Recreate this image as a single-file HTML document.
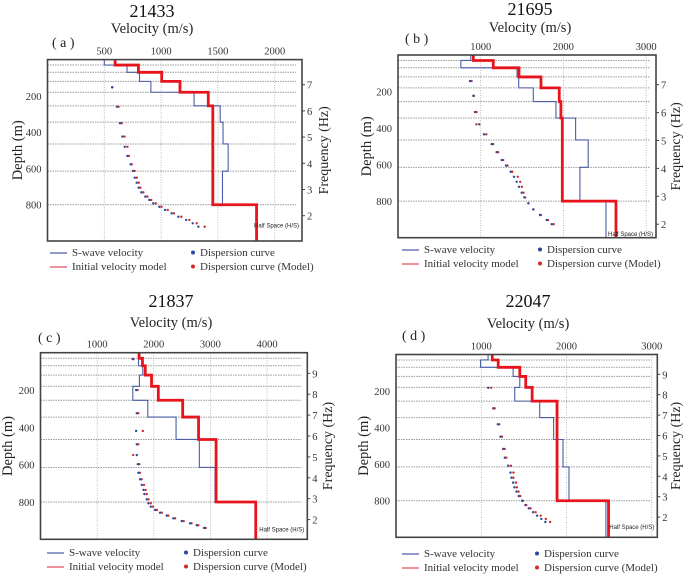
<!DOCTYPE html>
<html><head><meta charset="utf-8">
<style>
body{margin:0;background:#fff;}
svg{display:block;font-family:"Liberation Serif",serif;}
</style></head>
<body>
<svg id="fig" width="685" height="576" viewBox="0 0 685 576"></svg>
<script>
// Layer interfaces (depth, m)
const interfaces = [30, 70, 120, 180, 255, 345, 465, 615, 800];
const layerTops = [0, 30, 70, 120, 180, 255, 345, 465, 615, 800];

// Panel a (21433)
const sA = [500, 700, 810, 910, 1290, 1520, 1545, 1590, 1540, 1840];
const mA = [595, 800, 1005, 1166, 1415, 1455, 1455, 1455, 1455, 1840];
const dVA = [571, 612, 638, 659, 680, 703, 732, 753, 768, 785, 802, 826, 861, 896, 931, 984, 1034, 1093, 1152, 1220, 1278, 1328];
const dFA = [6.9, 6.16, 5.53, 5.02, 4.63, 4.28, 3.96, 3.71, 3.45, 3.26, 3.07, 2.89, 2.73, 2.6, 2.47, 2.34, 2.22, 2.09, 1.96, 1.84, 1.71, 1.58];
const dMVA = [555, 612, 640, 665, 690, 703, 728, 753, 773, 790, 805, 830, 866, 900, 940, 990, 1045, 1100, 1165, 1235, 1300, 1370];
const vTicksA = [500, 1000, 1500, 2000];
const fTicksA = [2, 3, 4, 5, 6, 7];

// Panel b (21695)
const sB = [880, 760, 1440, 1460, 1636, 1910, 2148, 2300, 2200, 2515];
const mB = [911, 1152, 1463, 1729, 1950, 1970, 1987, 1987, 1987, 2636];
const dVB = [871, 911, 931, 983, 1040, 1133, 1193, 1254, 1306, 1363, 1403, 1435, 1463, 1496, 1527, 1576, 1636, 1717, 1798, 1859];
const dFB = [7.13, 6.6, 6.02, 5.58, 5.22, 4.87, 4.58, 4.3, 4.1, 3.88, 3.7, 3.52, 3.34, 3.13, 2.96, 2.75, 2.53, 2.33, 2.15, 2.0];
const dMVB = [871, 900, 931, 930, 1050, 1133, 1193, 1254, 1306, 1363, 1430, 1460, 1480, 1500, 1520, 1560, 1620, 1710, 1795, 1865];
const vTicksB = [1000, 2000, 3000];
const fTicksB = [2, 3, 4, 5, 6, 7];

// Panel c (21837)
const sC = [1730, 1730, 1806, 1746, 1630, 1894, 2393, 2804, 3081, 3799];
const mC = [1740, 1800, 1850, 1960, 2080, 2510, 2790, 3100, 3100, 3800];
const dVC = [1640, 1688, 1700, 1688, 1700, 1700, 1718, 1728, 1758, 1788, 1817, 1834, 1876, 1905, 1947, 2023, 2111, 2229, 2346, 2494, 2640, 2758, 2887];
const dFC = [9.68, 8.2, 7.09, 6.24, 5.6, 5.09, 4.65, 4.24, 3.93, 3.66, 3.42, 3.22, 2.97, 2.78, 2.62, 2.46, 2.33, 2.19, 2.06, 1.93, 1.82, 1.73, 1.6];
const dMVC = [1600, 1688, 1700, 1780, 1700, 1610, 1718, 1728, 1760, 1800, 1830, 1850, 1880, 1920, 1960, 2030, 2115, 2230, 2350, 2500, 2640, 2760, 2890];
const vTicksC = [1000, 2000, 3000, 4000];
const fTicksC = [2, 3, 4, 5, 6, 7, 8, 9];

// Panel d (22047)
const sD = [1080, 992, 1374, 1452, 1393, 1686, 1849, 1959, 2029, 2462];
const mD = [1129, 1199, 1452, 1522, 1597, 1889, 1889, 1889, 1889, 2493];
const dVD = [1082, 1140, 1194, 1226, 1257, 1276, 1316, 1343, 1354, 1374, 1389, 1413, 1440, 1479, 1518, 1557, 1608, 1655, 1705, 1752];
const dFD = [8.34, 7.33, 6.55, 5.94, 5.34, 4.91, 4.52, 4.18, 3.93, 3.69, 3.46, 3.25, 3.03, 2.8, 2.59, 2.43, 2.24, 2.07, 1.91, 1.76];
const dMVD = [1100, 1140, 1194, 1226, 1257, 1276, 1330, 1360, 1360, 1390, 1400, 1420, 1440, 1470, 1510, 1560, 1620, 1680, 1740, 1790];
const vTicksD = [1000, 2000, 3000];
const fTicksD = [2, 3, 4, 5, 6, 7, 8, 9];

const depthTicks = [200, 400, 600, 800];

const NS = "http://www.w3.org/2000/svg";
const svg = document.getElementById("fig");
function mk(tag, attrs, parent, text){
  const e = document.createElementNS(NS, tag);
  for (const k in attrs) e.setAttribute(k, attrs[k]);
  if (text !== undefined) e.textContent = text;
  (parent || svg).appendChild(e);
  return e;
}

const panels = [
  {id:"a", title:"21433", L:47.5, T:59.6, R:302, B:241, vmax:2240, f0:7, fy0:84.7, fpx:26.2,
   s:sA, m:mA, dv:dVA, df:dFA, dmv:dMVA, vt:vTicksA, ft:fTicksA,
   titleX:152, titleY:17, velY:33, lab:[52,47], depthX:22, freqX:328, legY:256, legX:50, dotX:193},
  {id:"b", title:"21695", L:398, T:55, R:656, B:237.7, vmax:3120, f0:7, fy0:84.7, fpx:27.9,
   s:sB, m:mB, dv:dVB, df:dFB, dmv:dMVB, vt:vTicksB, ft:fTicksB,
   titleX:530, titleY:15, velY:32, lab:[405,43], depthX:371, freqX:680, legY:253, legX:402, dotX:540},
  {id:"c", title:"21837", L:40.5, T:352.7, R:307.3, B:539.3, vmax:4710, f0:9, fy0:373.3, fpx:20.9,
   s:sC, m:mC, dv:dVC, df:dFC, dmv:dMVC, vt:vTicksC, ft:fTicksC,
   titleX:171, titleY:307, velY:327, lab:[38,342], depthX:12, freqX:332, legY:556, legX:47, dotX:186},
  {id:"d", title:"22047", L:396, T:354.5, R:657.3, B:537.3, vmax:3065, f0:9, fy0:374.3, fpx:20.4,
   s:sD, m:mD, dv:dVD, df:dFD, dmv:dMVD, vt:vTicksD, ft:fTicksD,
   titleX:528, titleY:307, velY:328, lab:[402,340], depthX:368, freqX:680, legY:557, legX:402, dotX:537}
];

panels.forEach(p => {
  const g = mk("g", {});
  
  
  const xv = v => p.L + (v / p.vmax) * (p.R - p.L);
  const yd = d => p.T + (d / 1000) * (p.B - p.T);
  const yf = f => p.fy0 - (f - p.f0) * p.fpx;

  let t = mk("text", {x:p.titleX, y:p.titleY, "text-anchor":"middle", "font-size":18, fill:"#111"}, g, p.title);
  
  
  t = mk("text", {x:p.titleX, y:p.velY, "text-anchor":"middle", "font-size":14.5, fill:"#222"}, g, "Velocity (m/s)");
  
  
  t = mk("text", {x:p.lab[0], y:p.lab[1], "font-size":14, fill:"#222"}, g, "( " + p.id + " )");
  
  

  // grid
  interfaces.forEach(d => {
    const l = mk("line", {x1:p.L, x2:p.R - 6, y1:yd(d), y2:yd(d), stroke:"#9a9a9a", "stroke-width":1, "stroke-dasharray":"1.5,1"}, g);
    
    
  });
  p.vt.forEach(v => {
    const l = mk("line", {x1:xv(v), x2:xv(v), y1:p.T, y2:p.B, stroke:"#aaa", "stroke-width":0.8, "stroke-dasharray":"1,1.5"}, g);
    
    
    const tl = mk("text", {x:xv(v), y:p.T - 5, "text-anchor":"middle", "font-size":10.5, fill:"#333"}, g, String(v));
    
    
  });
  depthTicks.forEach(d => {
    const tl = mk("text", {x:p.L - 6, y:yd(d) + 4, "text-anchor":"end", "font-size":10.5, fill:"#333"}, g, String(d));
    
    
  });
  p.ft.forEach(f => {
    const l = mk("line", {x1:p.R, x2:p.R + 3, y1:yf(f), y2:yf(f), stroke:"#444", "stroke-width":1}, g);
    
    
    const tl = mk("text", {x:p.R + 5, y:yf(f) + 4, "font-size":10.5, fill:"#333"}, g, String(f));
    
    
  });
  const cy = (p.T + p.B) / 2;
  t = mk("text", {x:p.depthX, y:cy, transform:"rotate(-90 " + p.depthX + " " + cy + ")", "text-anchor":"middle", "font-size":14.5, fill:"#222"}, g, "Depth (m)");
  
  
  t = mk("text", {x:p.freqX, y:cy, transform:"rotate(-90 " + p.freqX + " " + cy + ")", "text-anchor":"middle", "font-size":14, fill:"#222"}, g, "Frequency (Hz)");
  
  

  function stepPath(vals){
    let d = "M" + xv(vals[0]) + "," + yd(0);
    vals.forEach((v, i) => {
      const top = layerTops[i], bot = i + 1 < layerTops.length ? layerTops[i + 1] : 1000;
      d += " L" + xv(v) + "," + yd(top) + " L" + xv(v) + "," + yd(bot);
    });
    return d;
  }
  const sp = mk("path", {d:stepPath(p.s), fill:"none", stroke:"#4a5da6", "stroke-width":1.1}, g);
  
  
  const mp = mk("path", {d:stepPath(p.m), fill:"none", stroke:"#e8141c", "stroke-width":2.8}, g);
  
  

  p.dmv.forEach((v, i) => {
    const c = mk("circle", {cx:xv(v) + 1.5, cy:yf(p.df[i]), r:1.2, fill:"#d42a2a"}, g);
    
    
  });
  p.dv.forEach((v, i) => {
    const c = mk("circle", {cx:xv(v), cy:yf(p.df[i]), r:1.2, fill:"#2a4aa0"}, g);
    
    
  });

  t = mk("text", {x:p.R - 3, y:yf(2) + 12, "text-anchor":"end", "font-size":6, "font-family":"Liberation Sans Narrow, Liberation Sans, sans-serif", fill:"#222"}, g, "Half Space (H/S)");
  
  

  const box = mk("rect", {x:p.L, y:p.T, width:p.R - p.L, height:p.B - p.T, fill:"none", stroke:"#444", "stroke-width":1.6}, g);
  
  

  // legend
  const lg = mk("g", {}, g);
  
  
  const y1 = p.legY, y2 = p.legY + 14;
  let e = mk("line", {x1:p.legX, x2:p.legX + 17, y1:y1 - 3, y2:y1 - 3, stroke:"#4a5da6", "stroke-width":1.2}, lg);
  
  
  e = mk("text", {x:p.legX + 22, y:y1, "font-size":11, fill:"#333"}, lg, "S-wave velocity");
  
  
  e = mk("line", {x1:p.legX, x2:p.legX + 17, y1:y2 - 3, y2:y2 - 3, stroke:"#e05060", "stroke-width":1.2}, lg);
  
  
  e = mk("text", {x:p.legX + 22, y:y2, "font-size":11, fill:"#333"}, lg, "Initial velocity model");
  
  
  e = mk("circle", {cx:p.dotX, cy:y1 - 3.5, r:2, fill:"#2a4aa0"}, lg);
  
  
  e = mk("text", {x:p.dotX + 7, y:y1, "font-size":11, fill:"#333"}, lg, "Dispersion curve");
  
  
  e = mk("circle", {cx:p.dotX, cy:y2 - 3.5, r:2, fill:"#d42a2a"}, lg);
  
  
  e = mk("text", {x:p.dotX + 7, y:y2, "font-size":11, fill:"#333"}, lg, "Dispersion curve (Model)");
  
  
});
</script>
</body></html>
